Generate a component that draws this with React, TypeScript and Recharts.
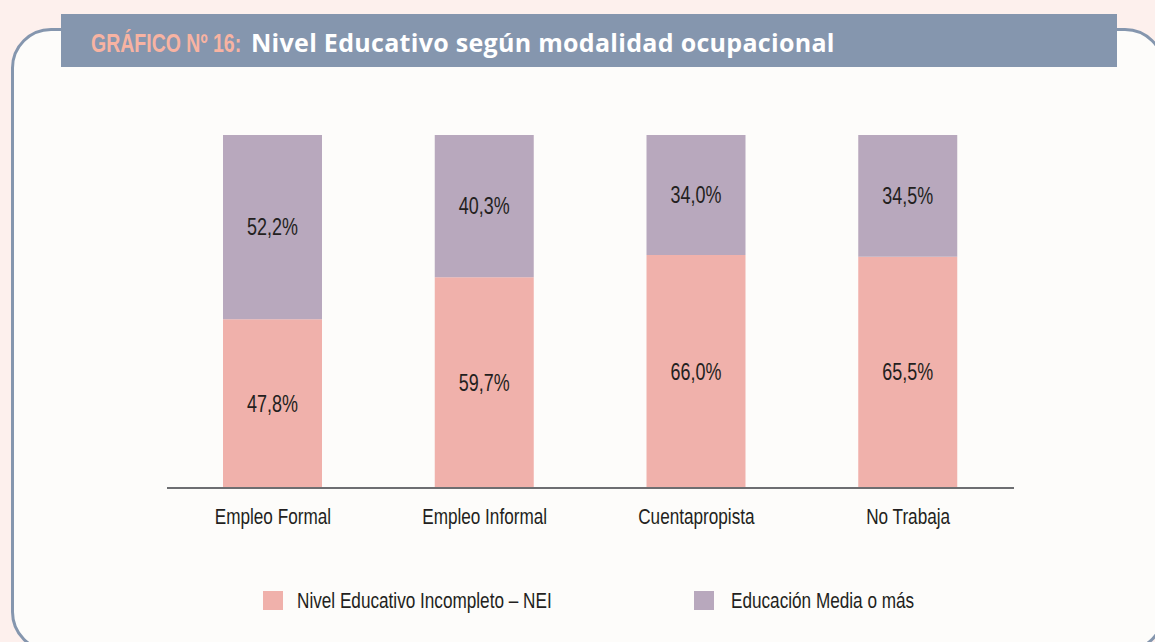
import React from "react";
import { BarChart, Bar, XAxis, YAxis, LabelList } from "recharts";

const categories = ["Empleo Formal", "Empleo Informal", "Cuentapropista", "No Trabaja"];
const neiValues = [47.8, 59.7, 66.0, 65.5];
const mediaValues = [52.2, 40.3, 34.0, 34.5];
const seriesNames = ["Nivel Educativo Incompleto – NEI", "Educación Media o más"];

const data = categories.map((c, i) => ({ name: c, nei: neiValues[i], media: mediaValues[i] }));

const PINK = "#f0b1ab";
const PURPLE = "#b8a8bd";
const FRAME = "#8596ae";
const TEXT = "#231f20";
const FONT = "'Liberation Sans', Arial, sans-serif";
const SQ = 0.78;

const fmt = (v: any) => `${Number(v).toFixed(1).replace(".", ",")}%`;

const Tick = (props: any) => {
  const { x, y, payload } = props;
  return (
    <text
      transform={`translate(${x},${y + 28}) scale(${SQ},1)`}
      textAnchor="middle"
      fill={TEXT}
      fontSize={22}
      fontFamily={FONT}
    >
      {payload.value}
    </text>
  );
};

const SegLabel = (props: any) => {
  const { x, y, width, height, value } = props;
  const cx = Number(x) + Number(width) / 2;
  const cy = Number(y) + Number(height) / 2;
  return (
    <text
      transform={`translate(${cx},${cy + 8}) scale(${SQ},1)`}
      textAnchor="middle"
      fill={TEXT}
      fontSize={23}
      fontFamily={FONT}
    >
      {fmt(value)}
    </text>
  );
};

const squeeze: React.CSSProperties = {
  transform: `scaleX(${SQ})`,
  transformOrigin: "left center",
  whiteSpace: "nowrap",
};

export default function App() {
  return (
    <div style={{ position: "absolute", left: 0, top: 0, width: 1155, height: 642, overflow: "hidden", background: "#fdf0ed" }}>
      <div style={{ position: "absolute", left: 11, top: 28, width: 1154, height: 624, boxSizing: "border-box", border: `3.5px solid ${FRAME}`, borderRadius: 40, background: "#fdfcfa" }} />
      <div style={{ position: "absolute", left: 61, top: 14, width: 1056, height: 53, background: FRAME }} />
      <div style={{ position: "absolute", left: 91, top: 29, fontFamily: FONT, fontWeight: 700, fontSize: 25, lineHeight: "28px", color: "#f8b3a2", ...squeeze }}>
        GRÁFICO Nº 16:
      </div>
      <div style={{ position: "absolute", left: 251, top: 27, fontFamily: "'Open Sans', sans-serif", fontWeight: 700, fontSize: 25, lineHeight: "30px", letterSpacing: 0.3, color: "#ffffff", whiteSpace: "nowrap" }}>
        Nivel Educativo según modalidad ocupacional
      </div>
      <div style={{ position: "absolute", left: 0, top: 0 }}>
        <BarChart width={1155} height={642} data={data} margin={{ top: 135, right: 141, bottom: 124, left: 167 }}>
          <YAxis hide domain={[0, 100]} />
          <XAxis
            dataKey="name"
            height={30}
            tickLine={false}
            axisLine={{ stroke: "#6d6e71", strokeWidth: 2 }}
            tick={<Tick />}
          />
          <Bar dataKey="nei" stackId="a" fill={PINK} barSize={99} isAnimationActive={false}>
            <LabelList dataKey="nei" content={<SegLabel />} />
          </Bar>
          <Bar dataKey="media" stackId="a" fill={PURPLE} barSize={99} isAnimationActive={false}>
            <LabelList dataKey="media" content={<SegLabel />} />
          </Bar>
        </BarChart>
      </div>
      <div style={{ position: "absolute", left: 263, top: 591, width: 20, height: 19, background: PINK }} />
      <div style={{ position: "absolute", left: 297, top: 587, fontFamily: FONT, fontSize: 22, color: TEXT, lineHeight: "28px", ...squeeze }}>{seriesNames[0]}</div>
      <div style={{ position: "absolute", left: 694, top: 591, width: 20, height: 19, background: PURPLE }} />
      <div style={{ position: "absolute", left: 731, top: 587, fontFamily: FONT, fontSize: 22, color: TEXT, lineHeight: "28px", ...squeeze }}>{seriesNames[1]}</div>
    </div>
  );
}
